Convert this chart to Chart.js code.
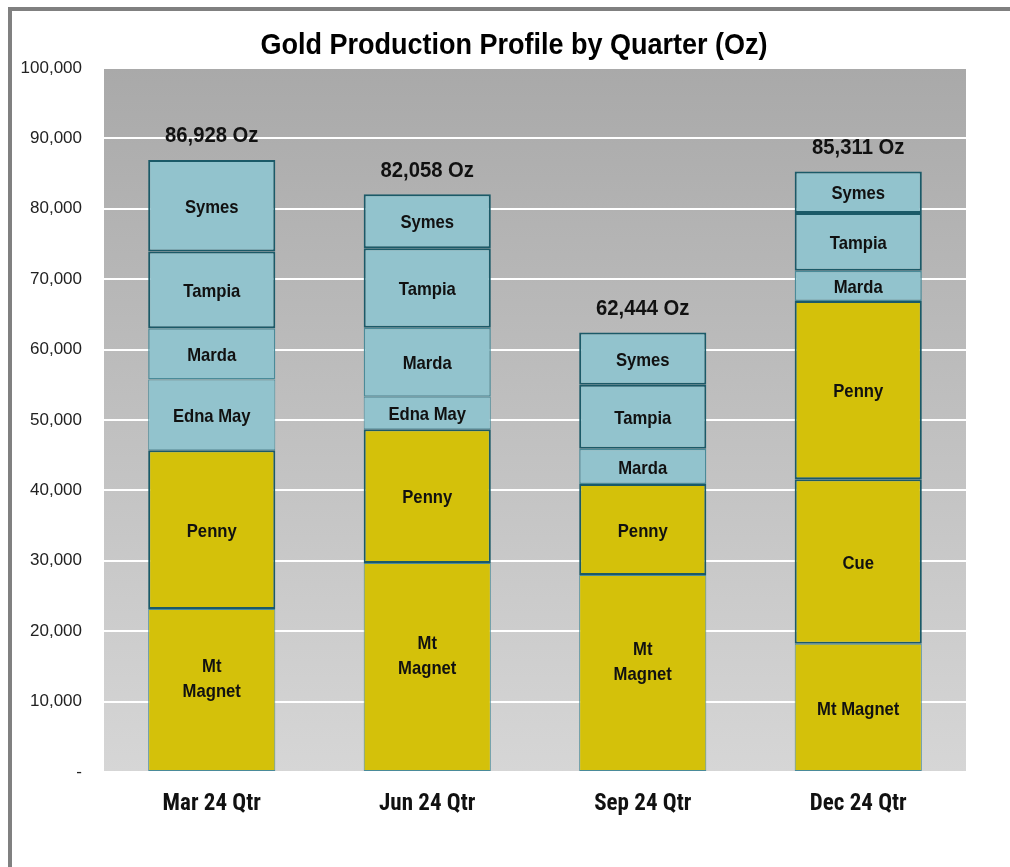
<!DOCTYPE html>
<html>
<head>
<meta charset="utf-8">
<script src="https://cdn.jsdelivr.net/npm/chart.js@4.4.1/dist/chart.umd.min.js"></script>
<style>
  html, body { margin: 0; padding: 0; background: #fff; }
  #wrap { position: relative; width: 1010px; height: 867px; }
  #marco { position: absolute; left: 8px; top: 7px; right: 0; bottom: 0; border-top: 4px solid #808080; border-left: 4px solid #808080; }
  canvas { position: absolute; left: 0; top: 0; }
</style>
</head>
<body>
<div id="wrap">
  <div id="marco"></div>
  <canvas id="graficaoro" width="1010" height="867"></canvas>
</div>
<script>
const titulo = 'Gold Production Profile by Quarter (Oz)';
const trimestres = ['Mar 24 Qtr', 'Jun 24 Qtr', 'Sep 24 Qtr', 'Dec 24 Qtr'];

// onzas por mina y trimestre (null = sin produccion ese trimestre)
const mtMagnet = [23150, 29700, 28000, 18200];
const cue      = [null, null, null, 23400];
const penny    = [22550, 19000, 12900, 25300];
const ednaMay  = [10050, 4600, null, null];
const marda    = [7300, 9800, 5000, 4300];
const tampia   = [10900, 11300, 9100, 8200];
const symes    = [12978, 7658, 7444, 5911];

const ticksY = [0, 10000, 20000, 30000, 40000, 50000, 60000, 70000, 80000, 90000, 100000];

const oro = '#d4c10a';
const azul = '#92c3cd';
const bordeFuerte = '#1b5a68';
const bordeSuave = '#4a8b99';

const fuenteCondensada = '"Roboto Condensed", "Liberation Sans", Arial, sans-serif';
const fuenteNormal = '"Liberation Sans", Arial, sans-serif';

function serie(nombre, datos, color, borde, ancho) {
    return {
        label: nombre,
        data: datos,
        backgroundColor: color,
        borderColor: borde,
        borderWidth: ancho,
        borderSkipped: false,
        barPercentage: 0.59,
        categoryPercentage: 1.0
    };
}

// texto en negrita un poco comprimido (como en el original)
function textoComprimido(ctx, t, x, y) {
    ctx.save();
    ctx.translate(x, y);
    ctx.scale(0.9, 1);
    ctx.fillText(t, 0, 0);
    ctx.restore();
}

// fondo degradado del area de trazado
const fondoPlot = {
    id: 'fondoPlot',
    beforeDraw(chart) {
        const a = chart.chartArea;
        const ctx = chart.ctx;
        const g = ctx.createLinearGradient(0, a.top, 0, a.bottom);
        g.addColorStop(0, '#a9a9a9');
        g.addColorStop(1, '#d6d6d6');
        ctx.save();
        ctx.fillStyle = g;
        ctx.fillRect(a.left, a.top, a.right - a.left, a.bottom - a.top);
        ctx.restore();
    }
};

// titulo, nombres de mina dentro de cada segmento y total encima de cada barra
const etiquetas = {
    id: 'etiquetas',
    afterDatasetsDraw(chart) {
        const ctx = chart.ctx;
        ctx.save();
        ctx.textAlign = 'center';
        ctx.textBaseline = 'middle';

        ctx.fillStyle = '#000';
        ctx.font = 'bold 30px ' + fuenteNormal;
        textoComprimido(ctx, titulo, chart.width / 2 + 9, 46);

        ctx.fillStyle = '#111';
        ctx.font = 'bold 18.5px ' + fuenteNormal;
        chart.data.datasets.forEach((ds, i) => {
            const meta = chart.getDatasetMeta(i);
            meta.data.forEach((bar, j) => {
                if (ds.data[j] == null) return;
                const cy = (bar.y + bar.base) / 2 + 2;
                if (ds.label === 'Mt Magnet' && j < 3) {
                    textoComprimido(ctx, 'Mt', bar.x, cy - 25);
                    textoComprimido(ctx, 'Magnet', bar.x, cy);
                } else {
                    textoComprimido(ctx, ds.label, bar.x, cy);
                }
            });
        });
        ctx.font = 'bold 22.5px ' + fuenteNormal;
        const ys = chart.scales.y;
        trimestres.forEach((q, j) => {
            let total = 0;
            chart.data.datasets.forEach(ds => { total += ds.data[j] || 0; });
            const x = chart.getDatasetMeta(0).data[j].x;
            textoComprimido(ctx, total.toLocaleString('en-US') + ' Oz', x, ys.getPixelForValue(total) - 24);
        });
        ctx.restore();
    }
};

const datos = {
    labels: trimestres,
    datasets: [
        serie('Mt Magnet', mtMagnet, oro, bordeSuave, 1),
        serie('Cue', cue, oro, bordeFuerte, 2),
        serie('Penny', penny, oro, bordeFuerte, 2),
        serie('Edna May', ednaMay, azul, bordeSuave, 1),
        serie('Marda', marda, azul, bordeSuave, 1.5),
        serie('Tampia', tampia, azul, bordeFuerte, 2),
        serie('Symes', symes, azul, bordeFuerte, 2)
    ]
};

const config = {
    type: 'bar',
    data: datos,
    options: {
        responsive: false,
        animation: false,
        layout: { padding: { left: 14, right: 44, top: 68, bottom: 30 } },
        plugins: {
            legend: { display: false },
            tooltip: { enabled: false },
            title: { display: false }
        },
        scales: {
            x: {
                stacked: true,
                grid: { display: false, drawTicks: false },
                border: { display: false },
                ticks: {
                    color: '#111',
                    padding: 18,
                    font: { family: fuenteCondensada, size: 23, weight: 'bold' }
                },
                afterFit(s) { s.height = 65; }
            },
            y: {
                stacked: true,
                min: 0,
                max: 100000,
                afterBuildTicks(s) { s.ticks = ticksY.map(v => ({ value: v })); },
                grid: { color: '#ffffff', lineWidth: 2, drawTicks: false },
                border: { display: false },
                ticks: {
                    color: '#222',
                    padding: 22,
                    font: { family: fuenteNormal, size: 17 },
                    callback: v => v === 0 ? '-' : v.toLocaleString('en-US')
                },
                afterFit(s) { s.width = 90; }
            }
        }
    },
    plugins: [fondoPlot, etiquetas]
};

new Chart(document.getElementById('graficaoro'), config);
</script>
</body>
</html>
